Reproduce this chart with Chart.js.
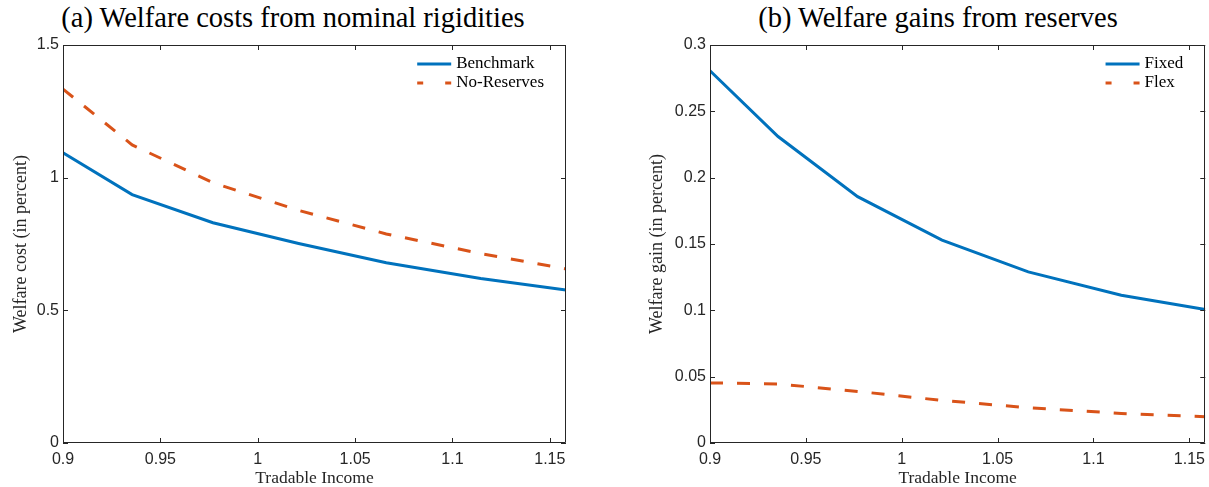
<!DOCTYPE html>
<html>
<head>
<meta charset="utf-8">
<title>Welfare costs and gains</title>
<script src="https://cdn.jsdelivr.net/npm/chart.js@4/dist/chart.umd.min.js"></script>
<style>
	html, body { margin: 0; padding: 0; background: #fff; overflow: hidden; width: 1209px; height: 487px; }
	.panel { position: absolute; top: 0; }
	.panel-title {
		position: absolute; top: 2px; text-align: center; white-space: nowrap;
		font-family: 'Liberation Serif', 'DejaVu Serif', serif; font-size: 28.5px; color: #000;
	}
</style>
</head>
<body>
<div class="panel-title" style="left:0; width:586px;">(a) Welfare costs from nominal rigidities</div>
<div class="panel-title" style="left:667px; width:542px;">(b) Welfare gains from reserves</div>
<canvas id="chartCost" class="panel" style="left:0" width="600" height="487"></canvas>
<canvas id="chartGain" class="panel" style="left:640px" width="572" height="487"></canvas>
<script>
// tradable income grid (x) and the four series
const incomeGrid = [0.9, 0.9355, 0.977, 1.021, 1.066, 1.1145, 1.1583];
const benchmarkCost = [1.094, 0.936, 0.830, 0.752, 0.679, 0.620, 0.577];
const noReservesCost = [1.334, 1.1235, 0.981, 0.8765, 0.788, 0.714, 0.656];
const fixedGain = [0.2806, 0.2310, 0.1857, 0.1529, 0.1290, 0.1114, 0.1006];
const flexGain = [0.0453, 0.0445, 0.0389, 0.0321, 0.0266, 0.0223, 0.0198];

const xTicks = [0.9, 0.95, 1, 1.05, 1.1, 1.15];
const xTickLabels = ['0.9', '0.95', '1', '1.05', '1.1', '1.15'];
const costTicks = [0, 0.5, 1, 1.5];
const costTickLabels = ['0', '0.5', '1', '1.5'];
const gainTicks = [0, 0.05, 0.1, 0.15, 0.2, 0.25, 0.3];
const gainTickLabels = ['0', '0.05', '0.1', '0.15', '0.2', '0.25', '0.3'];

const BLUE = '#0072BD';
const ORANGE = '#D95319';
const AXIS = '#262626';
const SERIF = "'Liberation Serif', 'DejaVu Serif', serif";
const SANS = "'Liberation Sans', Arial, sans-serif";

function toPoints(values) {
	return incomeGrid.map((x, i) => ({ x: x, y: values[i] }));
}

// matlab style box with inward ticks on all four sides
const axesBox = {
	id: 'axesBox',
	afterDatasetsDraw(chart) {
		const { ctx, chartArea: a, scales: { x, y } } = chart;
		const len = 5;
		ctx.save();
		ctx.strokeStyle = AXIS;
		ctx.lineWidth = 1;
		ctx.setLineDash([]);
		ctx.beginPath();
		ctx.rect(Math.round(a.left) + 0.5, Math.round(a.top) + 0.5,
			Math.round(a.right) - Math.round(a.left) - 1, Math.round(a.bottom) - Math.round(a.top) - 1);
		x.ticks.forEach(t => {
			const px = Math.round(x.getPixelForValue(t.value)) + 0.5;
			ctx.moveTo(px, a.bottom); ctx.lineTo(px, a.bottom - len);
			ctx.moveTo(px, a.top); ctx.lineTo(px, a.top + len);
		});
		y.ticks.forEach(t => {
			const py = Math.round(y.getPixelForValue(t.value)) + 0.5;
			ctx.moveTo(a.left, py); ctx.lineTo(a.left + len, py);
			ctx.moveTo(a.right, py); ctx.lineTo(a.right - len, py);
		});
		ctx.stroke();
		ctx.restore();
	}
};

// legend drawn inside the plot, top right, without a frame
const insetLegend = {
	id: 'insetLegend',
	afterDatasetsDraw(chart) {
		const { ctx, chartArea: a } = chart;
		const sample = 34, gap = 5, margin = 22;
		ctx.save();
		ctx.font = '17px ' + SERIF;
		ctx.textBaseline = 'middle';
		const widest = Math.max(...chart.data.datasets.map(ds => ctx.measureText(ds.label).width));
		const x0 = a.right - margin - widest - gap - sample;
		chart.data.datasets.forEach((ds, i) => {
			const yy = a.top + 19 + i * 19;
			ctx.strokeStyle = ds.borderColor;
			ctx.lineWidth = ds.borderWidth;
			ctx.setLineDash(ds.borderDash ? [6, 22] : []);
			ctx.beginPath();
			ctx.moveTo(x0, yy);
			ctx.lineTo(x0 + sample, yy);
			ctx.stroke();
			ctx.fillStyle = '#000';
			ctx.fillText(ds.label, x0 + sample + gap, yy);
		});
		ctx.restore();
	}
};

function makePanel(canvasId, cfg) {
	return new Chart(document.getElementById(canvasId), {
		type: 'line',
		data: {
			datasets: [{
				label: cfg.names[0],
				data: toPoints(cfg.series[0]),
				borderColor: BLUE,
				backgroundColor: BLUE,
				borderWidth: 3,
				pointRadius: 0,
				tension: 0,
			}, {
				label: cfg.names[1],
				data: toPoints(cfg.series[1]),
				borderColor: ORANGE,
				backgroundColor: ORANGE,
				borderWidth: 3,
				borderDash: [13, 14],
				pointRadius: 0,
				tension: 0,
			}]
		},
		options: {
			responsive: false,
			animation: false,
			devicePixelRatio: 1,
			layout: { padding: { left: 0, right: cfg.padRight, top: 45, bottom: 0 } },
			scales: {
				x: {
					type: 'linear',
					min: 0.9,
					max: 1.1583,
					afterFit: s => { s.height = 44; },
					afterBuildTicks: s => { s.ticks = xTicks.map(v => ({ value: v })); },
					grid: { display: false, drawTicks: false },
					border: { display: false },
					ticks: {
						padding: 7,
						color: AXIS,
						font: { family: SANS, size: 16 },
						maxRotation: 0,
						autoSkip: false,
						callback: (v, i) => xTickLabels[i]
					},
					title: {
						display: true,
						text: 'Tradable Income',
						color: AXIS,
						font: { family: SERIF, size: 17.5, lineHeight: 1 },
						padding: { top: 0, bottom: 0 }
					}
				},
				y: {
					type: 'linear',
					min: 0,
					max: cfg.yMax,
					afterFit: s => { s.width = cfg.yWidth; },
					afterBuildTicks: s => { s.ticks = cfg.yTicks.map(v => ({ value: v })); },
					grid: { display: false, drawTicks: false },
					border: { display: false },
					ticks: {
						padding: 4,
						color: AXIS,
						font: { family: SANS, size: 16 },
						autoSkip: false,
						callback: (v, i) => cfg.yTickLabels[i]
					},
					title: {
						display: true,
						text: cfg.yTitle,
						color: AXIS,
						font: { family: SERIF, size: 18, lineHeight: 1 },
						padding: { top: cfg.yTitlePad, bottom: 0 }
					}
				}
			},
			plugins: {
				legend: { display: false },
				tooltip: { enabled: false }
			}
		},
		plugins: [axesBox, insetLegend]
	});
}

const chartCost = makePanel('chartCost', {
	names: ['Benchmark', 'No-Reserves'],
	series: [benchmarkCost, noReservesCost],
	yMax: 1.5,
	yTicks: costTicks,
	yTickLabels: costTickLabels,
	yTitle: 'Welfare cost (in percent)',
	yWidth: 63,
	yTitlePad: 12,
	padRight: 34
});

const chartGain = makePanel('chartGain', {
	names: ['Fixed', 'Flex'],
	series: [fixedGain, flexGain],
	yMax: 0.3,
	yTicks: gainTicks,
	yTickLabels: gainTickLabels,
	yTitle: 'Welfare gain (in percent)',
	yWidth: 70,
	yTitlePad: 8,
	padRight: 2
});
</script>
</body>
</html>
